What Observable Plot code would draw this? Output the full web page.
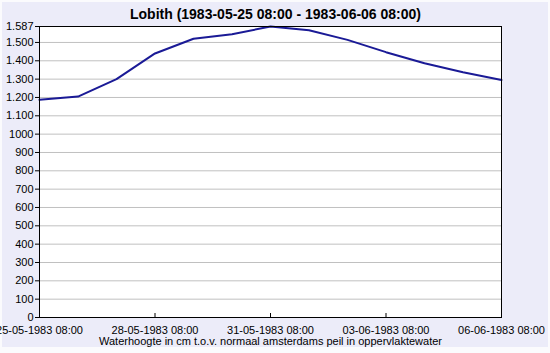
<!DOCTYPE html>
<html><head><meta charset="utf-8">
<script src="https://cdn.jsdelivr.net/npm/d3@7"></script>
<script src="https://cdn.jsdelivr.net/npm/@observablehq/plot@0.6"></script>
<style>
body{margin:0;background:#fbfbfd;}
#wrap{position:relative;width:550px;height:353px;overflow:hidden;background:#fbfbfd;}
#bg{position:absolute;left:2px;top:2px;width:546px;height:345px;background:#ececf9;}
#chart{position:absolute;left:0;top:0;}
</style></head><body>
<div id="wrap"><div id="bg"></div><div id="chart"></div></div>
<script>
const dates = ["1983-05-25T08:00Z","1983-05-26T08:00Z","1983-05-27T08:00Z","1983-05-28T08:00Z","1983-05-29T08:00Z","1983-05-30T08:00Z","1983-05-31T08:00Z","1983-06-01T08:00Z","1983-06-02T08:00Z","1983-06-03T08:00Z","1983-06-04T08:00Z","1983-06-05T08:00Z","1983-06-06T08:00Z"];
const levels = [1187, 1205, 1300, 1440, 1520, 1545, 1587, 1567, 1514, 1447, 1387, 1337, 1295];
const xTickDates = ["1983-05-25T08:00Z","1983-05-28T08:00Z","1983-05-31T08:00Z","1983-06-03T08:00Z","1983-06-06T08:00Z"];
const yTicks = [0,100,200,300,400,500,600,700,800,900,1000,1100,1200,1300,1400,1500,1587];
const yTickLabels = ["0","100","200","300","400","500","600","700","800","900","1000","1.100","1.200","1.300","1.400","1.500","1.587"];
const title = "Lobith (1983-05-25 08:00 - 1983-06-06 08:00)";
const xLabel = "Waterhoogte in cm t.o.v. normaal amsterdams peil in oppervlaktewater";

const data = dates.map((d, i) => ({date: new Date(d), level: levels[i]}));
const xTicks = xTickDates.map(d => new Date(d));
const fmt = d3.utcFormat("%d-%m-%Y %H:%M");

const chart = Plot.plot({
  width: 550, height: 353,
  marginLeft: 39, marginRight: 49, marginTop: 26, marginBottom: 36,
  style: {background: "transparent", fontFamily: "'Liberation Sans', Arial, sans-serif", fontSize: "11px", color: "#000", overflow: "visible"},
  x: {type: "utc", domain: [xTicks[0], xTicks[xTicks.length - 1]], label: null},
  y: {domain: [0, 1587], label: null},
  marks: [
    Plot.frame({fill: "white"}),
    Plot.gridY(yTicks, {stroke: "#c0c0c0", strokeOpacity: 1}),
    Plot.axisY(yTicks, {tickFormat: (d, i) => yTickLabels[i], tickSize: 4, tickPadding: 2, label: null, stroke: "#000"}),
    Plot.axisX(xTicks, {tickFormat: fmt, tickSize: -4, tickPadding: 13, label: null, stroke: "#000"}),
    Plot.line(data, {x: "date", y: "level", stroke: "#1a1a96", strokeWidth: 2}),
    Plot.frame({stroke: "#000", strokeOpacity: 1}),
    Plot.text([title], {frameAnchor: "top", dx: 5, dy: -8, lineAnchor: "bottom", fontWeight: "bold", fontSize: 14, fill: "#000"}),
    Plot.text([xLabel], {frameAnchor: "bottom", dy: 20, lineAnchor: "top", fontSize: 11, fill: "#000"})
  ]
});
document.getElementById("chart").appendChild(chart);
</script>
</body></html>
